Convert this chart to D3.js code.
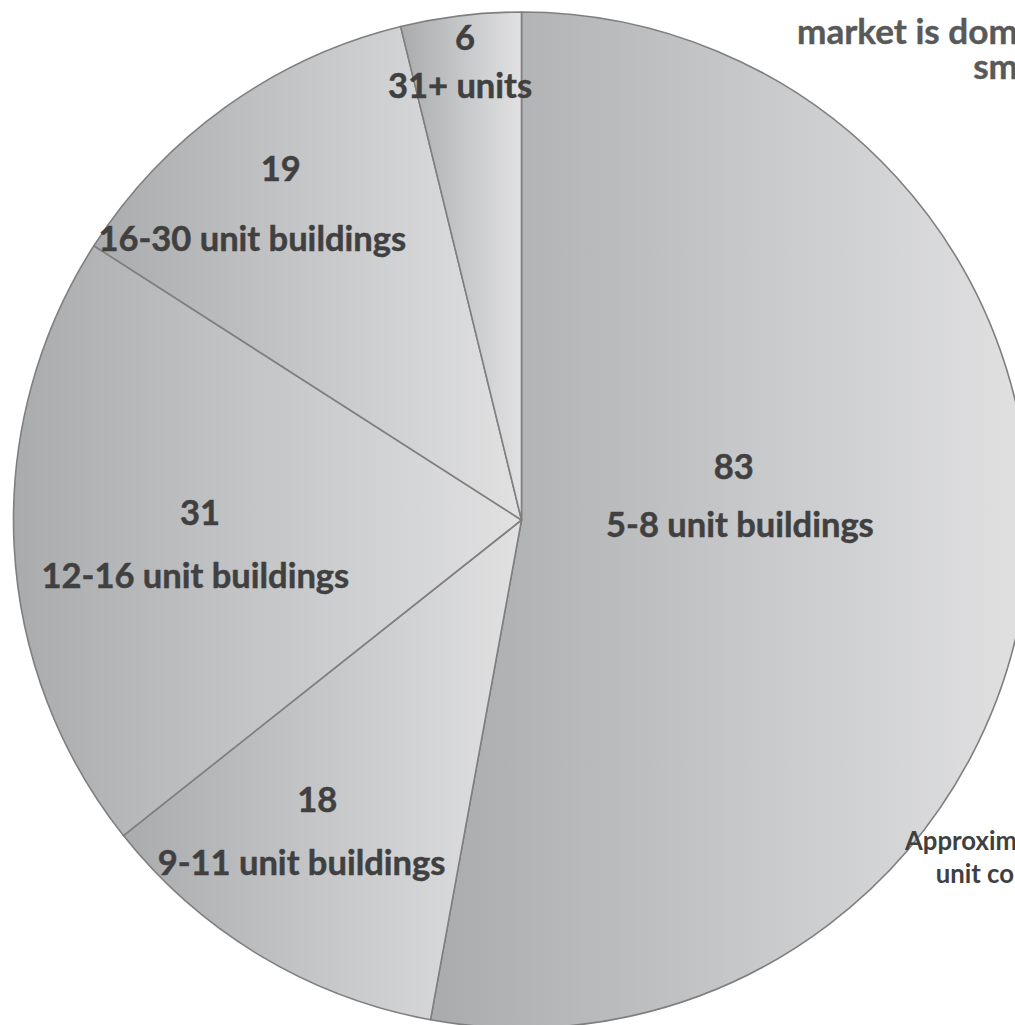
<!DOCTYPE html>
<html>
<head>
<meta charset="utf-8">
<script src="https://cdn.jsdelivr.net/npm/d3@7"></script>
<style>
  html, body { margin: 0; padding: 0; background: #ffffff; overflow: hidden; }
  svg { display: block; }
  text { font-family: Lato, "Open Sans", sans-serif; font-weight: 700; }
</style>
</head>
<body>
<svg id="chart" width="1015" height="1025"></svg>
<script>
// Building-size categories and their counts (clockwise from 12 o'clock)
const categories = ["5-8 unit buildings", "9-11 unit buildings", "12-16 unit buildings", "16-30 unit buildings", "31+ units"];
const values = [83, 18, 31, 19, 6];

// Headline and footnote fragments
const titleLines = ["market is dominated by", "small buildings"];
const noteLines = ["Approximate building", "unit counts"];

// Label placement, in units of the pie radius, relative to the pie centre
const valueLabelOffset = [[0.418, -0.081], [-0.402, 0.575], [-0.633, 0.010], [-0.474, -0.667], [-0.111, -0.925]];
const nameLabelOffset  = [[0.430, 0.033], [-0.433, 0.699], [-0.642, 0.134], [-0.530, -0.530], [-0.121, -0.830]];

const width = 1015, height = 1025;
const cx = 521.5, cy = 520, R = 508;

const svg = d3.select("#chart");

// Horizontal grey gradient applied per slice
const defs = svg.append("defs");
const grad = defs.append("linearGradient")
  .attr("id", "sliceFill")
  .attr("x1", "0%").attr("y1", "0%").attr("x2", "100%").attr("y2", "0%");
grad.append("stop").attr("offset", "0%").attr("stop-color", "#aaabad");
grad.append("stop").attr("offset", "55%").attr("stop-color", "#c8c9cb");
grad.append("stop").attr("offset", "100%").attr("stop-color", "#e1e1e2");

const data = categories.map((c, i) => ({ category: c, value: values[i], index: i }));

const pie = d3.pie().value(d => d.value).sort(null);
const arc = d3.arc().innerRadius(0).outerRadius(R);
const arcs = pie(data);

const g = svg.append("g").attr("transform", `translate(${cx},${cy})`);

g.selectAll("path.slice")
  .data(arcs)
  .join("path")
  .attr("class", "slice")
  .attr("d", arc)
  .attr("fill", "url(#sliceFill)")
  .attr("stroke", "#7f7f7f")
  .attr("stroke-width", 1.6)
  .attr("stroke-linejoin", "round");

const labels = g.append("g")
  .attr("fill", "#404040")
  .attr("stroke", "#404040")
  .attr("stroke-width", 0.5)
  .attr("text-anchor", "middle");

labels.selectAll("text.value")
  .data(arcs)
  .join("text")
  .attr("class", "value")
  .attr("x", d => valueLabelOffset[d.data.index][0] * R)
  .attr("y", d => valueLabelOffset[d.data.index][1] * R)
  .style("font-size", "34.5px")
  .text(d => d.data.value);

labels.selectAll("text.name")
  .data(arcs)
  .join("text")
  .attr("class", "name")
  .attr("x", d => nameLabelOffset[d.data.index][0] * R)
  .attr("y", d => nameLabelOffset[d.data.index][1] * R)
  .style("font-size", "34.5px")
  .text(d => d.data.category);

// Width of a string at a given size, used to size the edge-clipped text blocks
function measure(str, size) {
  const t = svg.append("text").style("font-size", size + "px").text(str);
  const w = t.node().getComputedTextLength();
  t.remove();
  return w;
}

// Headline (runs past the right edge)
const titleSize = 34 * 221 / measure("market is dom", 34);
const title = svg.append("text")
  .attr("fill", "#595959")
  .attr("stroke", "#595959")
  .attr("stroke-width", 0.4)
  .style("font-size", titleSize + "px");
title.append("tspan").attr("x", 797).attr("y", 44).text(titleLines[0]);
title.append("tspan").attr("x", width + 3 - measure("sm", titleSize)).attr("y", 79).text(titleLines[1]);

// Footnote (runs past the right edge)
const noteSize = 25 * 112 / measure("Approxim", 25);
const note = svg.append("text")
  .attr("fill", "#404040")
  .style("font-size", noteSize + "px");
note.append("tspan").attr("x", 905).attr("y", 850).text(noteLines[0]);
note.append("tspan").attr("x", width - 1 - measure("unit co", noteSize)).attr("y", 883).text(noteLines[1]);
</script>
</body>
</html>
